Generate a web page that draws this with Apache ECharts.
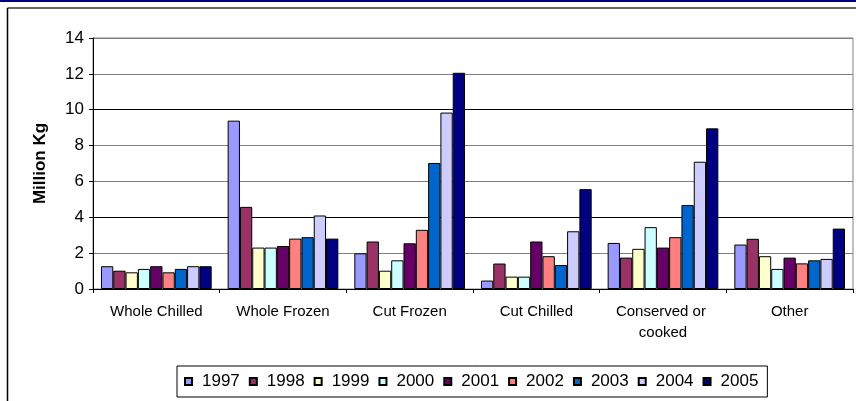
<!DOCTYPE html>
<html>
<head>
<meta charset="utf-8">
<script src="https://cdn.jsdelivr.net/npm/echarts@6/dist/echarts.min.js"></script>
<style>
  html, body { margin: 0; padding: 0; background: #fff; }
  #chart { width: 856px; height: 401px; }
</style>
</head>
<body>
<div id="chart"></div>
<script>
// Product categories along the x axis
var categories = ['Whole Chilled', 'Whole Frozen', 'Cut Frozen', 'Cut Chilled', 'Conserved or cooked', 'Other'];

// Volumes per year, in million kg, one value per category
var years = ['1997', '1998', '1999', '2000', '2001', '2002', '2003', '2004', '2005'];
var v1997 = [1.27, 9.39, 1.99, 0.47, 2.57, 2.48];
var v1998 = [1.02, 4.58, 2.65, 1.42, 1.75, 2.80];
var v1999 = [0.93, 2.31, 1.02, 0.69, 2.24, 1.83];
var v2000 = [1.12, 2.31, 1.60, 0.69, 3.45, 1.12];
var v2001 = [1.27, 2.40, 2.55, 2.65, 2.31, 1.75];
var v2002 = [0.93, 2.81, 3.30, 1.83, 2.89, 1.43];
var v2003 = [1.12, 2.89, 7.03, 1.34, 4.68, 1.60];
var v2004 = [1.27, 4.10, 9.84, 3.22, 7.10, 1.68];
var v2005 = [1.27, 2.81, 12.06, 5.57, 8.96, 3.37];
var valuesByYear = [v1997, v1998, v1999, v2000, v2001, v2002, v2003, v2004, v2005];

// Y axis ticks
var yMin = 0, yMax = 14, yStep = 2;

var palette = ['#9999FF', '#993366', '#FFFFCC', '#CCFFFF', '#660066', '#FF8080', '#0066CC', '#CCCCFF', '#000080'];
var font = 'Arial, "Liberation Sans", sans-serif';

var series = years.map(function (y, i) {
  return {
    name: y,
    type: 'bar',
    data: valuesByYear[i],
    barGap: '0%',
    barCategoryGap: '12.6%',
    itemStyle: { color: palette[i], borderColor: '#000', borderWidth: 1 }
  };
});

var chart = echarts.init(document.getElementById('chart'), null, { renderer: 'canvas' });
chart.setOption({
  animation: false,
  backgroundColor: '#fff',
  textStyle: { fontFamily: font, color: '#000' },
  graphic: [
    { type: 'rect', shape: { x: 0, y: 0, width: 856, height: 2 }, style: { fill: '#000080' }, silent: true },
    { type: 'line', shape: { x1: 7.5, y1: 8, x2: 856, y2: 8 }, style: { stroke: '#333', lineWidth: 1.5 }, silent: true },
    { type: 'line', shape: { x1: 7.5, y1: 8, x2: 7.5, y2: 401 }, style: { stroke: '#000', lineWidth: 1.5 }, silent: true }
  ],
  grid: {
    left: 93, right: 3, top: 38, bottom: 112,
    show: true, borderColor: '#808080', borderWidth: 1, backgroundColor: '#fff'
  },
  legend: {
    data: years,
    left: 177, top: 366,
    orient: 'horizontal',
    icon: 'rect',
    itemWidth: 7, itemHeight: 7,
    itemGap: 9,
    padding: [7, 9, 7, 7],
    borderColor: '#000', borderWidth: 1,
    textStyle: { fontFamily: font, fontSize: 17, color: '#000', padding: [0, 0, 0, 5] }
  },
  xAxis: {
    type: 'category',
    data: categories,
    axisLine: { lineStyle: { color: '#000', width: 1 } },
    axisTick: { show: true, length: 4, lineStyle: { color: '#000' } },
    axisLabel: {
      fontFamily: font, fontSize: 15, color: '#000', margin: 12,
      lineHeight: 21, width: 118, overflow: 'break', interval: 0
    },
    splitLine: { show: false }
  },
  yAxis: {
    type: 'value',
    min: yMin, max: yMax, interval: yStep,
    name: 'Million Kg',
    nameLocation: 'middle',
    nameGap: 44,
    nameTextStyle: { fontFamily: font, fontSize: 17, fontWeight: 'bold', color: '#000' },
    axisLine: { show: true, lineStyle: { color: '#000', width: 1 } },
    axisTick: { show: true, length: 4, lineStyle: { color: '#000' } },
    axisLabel: { fontFamily: font, fontSize: 17, color: '#000', margin: 9 },
    splitLine: {
      show: true,
      lineStyle: { color: ['#000', '#808080', '#000', '#808080', '#808080', '#000', '#808080', '#808080'], width: 1 }
    }
  },
  series: series
});
</script>
</body>
</html>
